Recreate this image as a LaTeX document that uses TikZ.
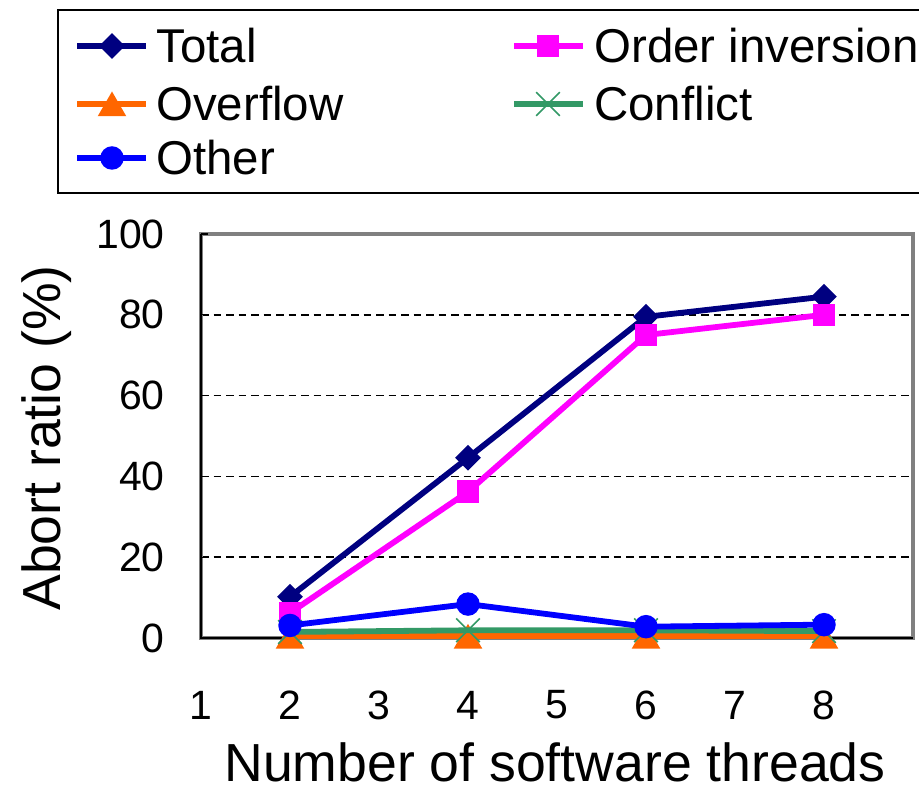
\documentclass[tikz,border=0pt]{standalone}
\usepackage{fontspec}
\setmainfont{Liberation Sans}
\usetikzlibrary{shapes.geometric, shapes.misc}

\definecolor{totcol}{HTML}{000080}
\definecolor{ordcol}{HTML}{FF00FF}
\definecolor{ovfcol}{HTML}{FF6600}
\definecolor{cnfcol}{HTML}{339966}
\definecolor{othcol}{HTML}{0000FF}

\tikzset{
  series/.style={line width=3.3pt, line join=round},
  totmark/.style={diamond, fill=totcol, inner sep=0pt, minimum size=0.52cm},
  ordmark/.style={rectangle, fill=ordcol, inner sep=0pt, minimum size=0.45cm},
  ovfmark/.style={regular polygon, regular polygon sides=3, fill=ovfcol, inner sep=0pt, minimum size=0.66cm, yshift=-0.08cm},
  cnfmark/.style={cross out, draw=cnfcol, line width=0.9pt, inner sep=0pt, minimum size=0.44cm},
  othmark/.style={circle, fill=othcol, inner sep=0pt, minimum size=0.47cm},
  gridline/.style={line width=0.8pt, dash pattern=on 0.15cm off 0.1cm},
  ticklab/.style={inner sep=0pt, font=\fontsize{23.3}{27}\selectfont},
  legtext/.style={inner sep=0pt, anchor=west, font=\fontsize{27}{31}\selectfont},
  axtitle/.style={inner sep=0pt, font=\fontsize{30.5}{35}\selectfont}
}

\begin{document}
\begin{tikzpicture}
  \useasboundingbox (0,0) rectangle (18.38,15.74);

  % Legend box (runs off the right edge)
  \draw[line width=0.8pt] (19.5,15.54) -- (1.16,15.54) -- (1.16,11.88) -- (19.5,11.88);

  % Legend entries
  \draw[series, totcol] (1.54,14.82) -- (2.92,14.82);
  \node[totmark] (lgtot) at (2.24,14.82) {};
  \node[legtext] (lgtottxt) at (3.12,14.82) {Total};

  \draw[series, ovfcol] (1.54,13.66) -- (2.92,13.66);
  \node[ovfmark] (lgovf) at (2.24,13.66) {};
  \node[legtext] (lgovftxt) at (3.12,13.66) {Overflow};

  \draw[series, othcol] (1.54,12.58) -- (2.92,12.58);
  \node[othmark] (lgoth) at (2.24,12.58) {};
  \node[legtext] (lgothtxt) at (3.12,12.58) {Other};

  \draw[series, ordcol] (10.28,14.82) -- (11.66,14.82);
  \node[ordmark] (lgord) at (10.96,14.82) {};
  \node[legtext] (lgordtxt) at (11.88,14.82) {Order inversion};

  \draw[series, cnfcol] (10.28,13.66) -- (11.66,13.66);
  \node[cnfmark] (lgcnf) at (10.96,13.66) {};
  \node[legtext] (lgcnftxt) at (11.88,13.66) {Conflict};

  % Axis titles
  \node[axtitle, anchor=base] (xtitle) at (11.1,0.1) {Number of software threads};
  \node[axtitle, rotate=90, anchor=base] (ytitle) at (1.2,6.98) {Abort ratio (\%)};

  \begin{scope}[shift={(2.24,2.98)}, x=1.78cm, y=0.0808cm]
    % Grid
    \foreach \v in {20,40,60,80}
      \draw[gridline] (1,\v) -- (9,\v);

    % Plot frame and axes
    \draw[gray, line width=2pt] (1,0) rectangle (9,100);
    \draw[line width=0.8pt] (1,100) -- (1,0) -- (9,0);

    % Y ticks and labels
    \foreach \v in {0,20,...,100} {
      \draw[line width=0.6pt] (1,\v) -- ++(0.14cm,0);
      \node[ticklab, anchor=east] (yl\v) at ([xshift=-0.72cm]1,\v) {\v};
    }

    % X ticks and labels
    \foreach \i in {2,...,8}
      \draw[line width=0.6pt] (\i,0) -- ++(0,0.1cm);
    \foreach \i in {1,...,8}
      \node[ticklab] (xl\i) at ([yshift=-1.34cm]\i,0) {\i};

    % Total
    \foreach \x/\y [count=\k] in {2/10.2, 4/44.6, 6/79.5, 8/84.5}
      \coordinate (tot\k) at (\x,\y);
    \draw[series, totcol] (tot1) -- (tot2) -- (tot3) -- (tot4);
    \foreach \k in {1,...,4}
      \node[totmark] (totm\k) at (tot\k) {};

    % Order inversion
    \foreach \x/\y [count=\k] in {2/6.2, 4/36.2, 6/75, 8/80}
      \coordinate (ord\k) at (\x,\y);
    \draw[series, ordcol] (ord1) -- (ord2) -- (ord3) -- (ord4);
    \foreach \k in {1,...,4}
      \node[ordmark] (ordm\k) at (ord\k) {};

    % Overflow
    \foreach \x/\y [count=\k] in {2/0.4, 4/0.4, 6/0.4, 8/0.4}
      \coordinate (ovf\k) at (\x,\y);
    \draw[series, ovfcol] (ovf1) -- (ovf2) -- (ovf3) -- (ovf4);
    \foreach \k in {1,...,4}
      \node[ovfmark] (ovfm\k) at (ovf\k) {};

    % Conflict
    \foreach \x/\y [count=\k] in {2/1.5, 4/1.9, 6/1.9, 8/1.7}
      \coordinate (cnf\k) at (\x,\y);
    \draw[series, cnfcol] (cnf1) -- (cnf2) -- (cnf3) -- (cnf4);
    \foreach \k in {1,...,4}
      \node[cnfmark] (cnfm\k) at (cnf\k) {};

    % Other
    \foreach \x/\y [count=\k] in {2/3.1, 4/8.4, 6/2.8, 8/3.3}
      \coordinate (oth\k) at (\x,\y);
    \draw[series, othcol] (oth1) -- (oth2) -- (oth3) -- (oth4);
    \foreach \k in {1,...,4}
      \node[othmark] (othm\k) at (oth\k) {};
  \end{scope}
\end{tikzpicture}
\end{document}
